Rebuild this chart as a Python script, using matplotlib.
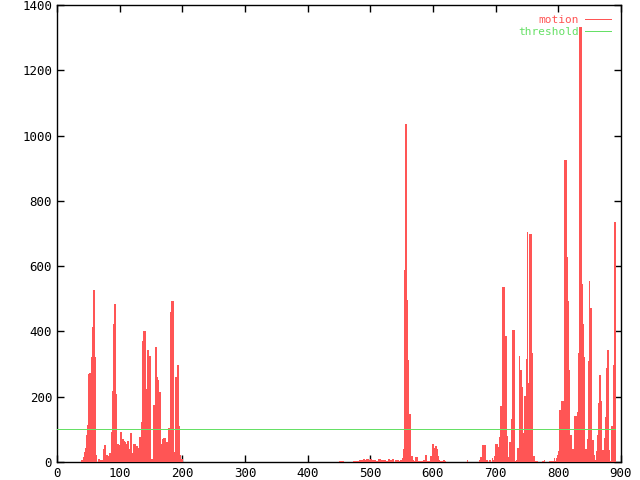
import numpy as np
import matplotlib
matplotlib.use('Agg')
import matplotlib.pyplot as plt
from matplotlib.lines import Line2D

plt.rcParams['font.family'] = ['DejaVu Sans Mono']

# motion per frame (frames not listed are 0)
n_frames = 892
threshold = 100

# frames 40-200
burst_a = [5, 5, 3, 15, 29, 29, 41, 60, 81, 112,
           112, 267, 272, 272, 159, 159, 320, 413, 413, 524,
           524, 320, 20, 20, 0, 0, 0, 7, 7, 0,
           4, 4, 4, 0, 38, 38, 50, 50, 7, 20,
           20, 16, 16, 10, 10, 25, 25, 89, 89, 217,
           217, 420, 483, 483, 206, 14, 14, 53, 53, 50,
           50, 49, 91, 91, 47, 68, 68, 62, 59, 59,
           25, 25, 55, 64, 64, 38, 38, 86, 86, 28,
           13, 25, 25, 55, 55, 43, 38, 38, 47, 40,
           40, 38, 75, 75, 75, 75, 122, 369, 369, 399,
           399, 283, 89, 89, 222, 343, 343, 324, 324, 17,
           9, 9, 4, 7, 7, 173, 173, 315, 352, 352,
           259, 250, 250, 213, 213, 63, 55, 55, 45, 68,
           68, 71, 71, 17, 53, 53, 60, 60, 73, 102,
           102, 173, 457, 457, 493, 493, 285, 28, 28, 256,
           258, 258, 297, 297, 150, 109, 20, 20, 7, 7, 4]

# frames 450-554
noise_b = [0, 0, 3, 3, 3, 3, 3, 0, 0, 0,
           0, 0, 0, 0, 0, 0, 0, 0, 0, 0,
           0, 0, 0, 0, 3, 3, 2, 3, 3, 3,
           2, 0, 2, 3, 4, 3, 5, 4, 3, 8,
           8, 3, 5, 5, 9, 9, 9, 5, 5, 6,
           6, 8, 8, 4, 4, 4, 6, 6, 6, 0,
           3, 3, 3, 0, 7, 7, 0, 0, 4, 4,
           0, 0, 6, 6, 0, 3, 3, 3, 0, 8,
           8, 0, 0, 4, 4, 0, 7, 7, 0, 0,
           4, 4, 0, 6, 6, 0, 3, 3, 3, 6,
           6, 4, 11, 20, 37]

# frames 555-620
spike_c = [586, 586, 1035, 1035, 496, 312, 312, 144, 144, 47,
           16, 16, 5, 5, 3, 3, 2, 3, 14, 14,
           2, 2, 0, 2, 3, 2, 0, 2, 2, 3,
           6, 6, 2, 3, 21, 2, 0, 2, 2, 3,
           2, 14, 18, 18, 31, 55, 55, 41, 27, 47,
           47, 37, 18, 18, 6, 6, 2, 2, 3, 2,
           2, 3, 5, 5, 2, 0]

# frame 655
blip_d = [6]

# frames 675-891
burst_e = [6, 6, 13, 13, 16, 52, 52, 52,
           52, 52, 6, 6, 2, 0, 0, 4,
           4, 4, 0, 0, 12, 6, 6, 11,
           18, 18, 55, 55, 52, 44, 44, 44,
           75, 75, 170, 170, 453, 536, 536, 505,
           383, 383, 77, 77, 11, 14, 14, 37,
           59, 59, 131, 131, 193, 404, 404, 103,
           3, 3, 6, 6, 4, 42, 42, 323,
           279, 279, 228, 228, 57, 88, 88, 149,
           200, 200, 315, 315, 703, 241, 241, 312,
           698, 698, 331, 331, 77, 16, 16, 6,
           3, 3, 2, 2, 0, 0, 0, 0,
           0, 0, 0, 0, 0, 2, 2, 6,
           0, 0, 0, 0, 0, 0, 0, 0,
           2, 2, 3, 3, 3, 3, 3, 10,
           3, 3, 11, 11, 21, 31, 31, 118,
           159, 159, 184, 184, 186, 42, 42, 481,
           925, 925, 625, 625, 493, 184, 184, 279,
           82, 82, 37, 37, 24, 37, 37, 57,
           139, 139, 106, 106, 153, 333, 333, 668,
           1330, 1330, 545, 545, 420, 320, 320, 47,
           37, 37, 13, 13, 70, 309, 309, 554,
           471, 471, 47, 47, 67, 11, 11, 21,
           6, 6, 31, 31, 80, 178, 178, 266,
           184, 184, 35, 35, 35, 14, 14, 72,
           135, 135, 285, 285, 343, 35, 35, 3,
           3, 3, 108, 108, 108, 295, 295, 733,
           733]

segments = [(40, burst_a), (450, noise_b), (555, spike_c),
            (655, blip_d), (675, burst_e)]

motion = np.zeros(n_frames)
for start, vals in segments:
    motion[start:start + len(vals)] = vals

red = '#ff5555'
green = '#66e066'

fig = plt.figure(figsize=(6.4, 4.8), dpi=100)
ax = fig.add_axes([57 / 640, 18 / 480, 564 / 640, 457 / 480])

edges = np.arange(n_frames + 1) - 0.5
ax.stairs(motion, edges, fill=True, color=red, linewidth=0.7,
          antialiased=False, zorder=3, clip_on=False)
ax.plot([0, n_frames - 1], [threshold, threshold], color=green,
        linewidth=0.72, antialiased=False, zorder=4)

ax.set_xlim(0, 900)
ax.set_ylim(0, 1400)
ax.set_xticks(np.arange(0, 901, 100))
ax.set_yticks(np.arange(0, 1401, 200))
ax.tick_params(direction='in', top=True, right=True, length=5, width=1,
               labelsize=9, colors='black')
for s in ax.spines.values():
    s.set_linewidth(1)

handles = [Line2D([], [], color=red, lw=0.72, antialiased=False),
           Line2D([], [], color=green, lw=0.72, antialiased=False)]
ax.legend(handles, ['motion', 'threshold'], loc='upper right',
          frameon=False, markerfirst=False, labelcolor='linecolor',
          handlelength=2.3, handletextpad=0.6, labelspacing=0.15,
          prop={'family': 'DejaVu Sans Mono', 'size': 8})

plt.savefig('out.png')
